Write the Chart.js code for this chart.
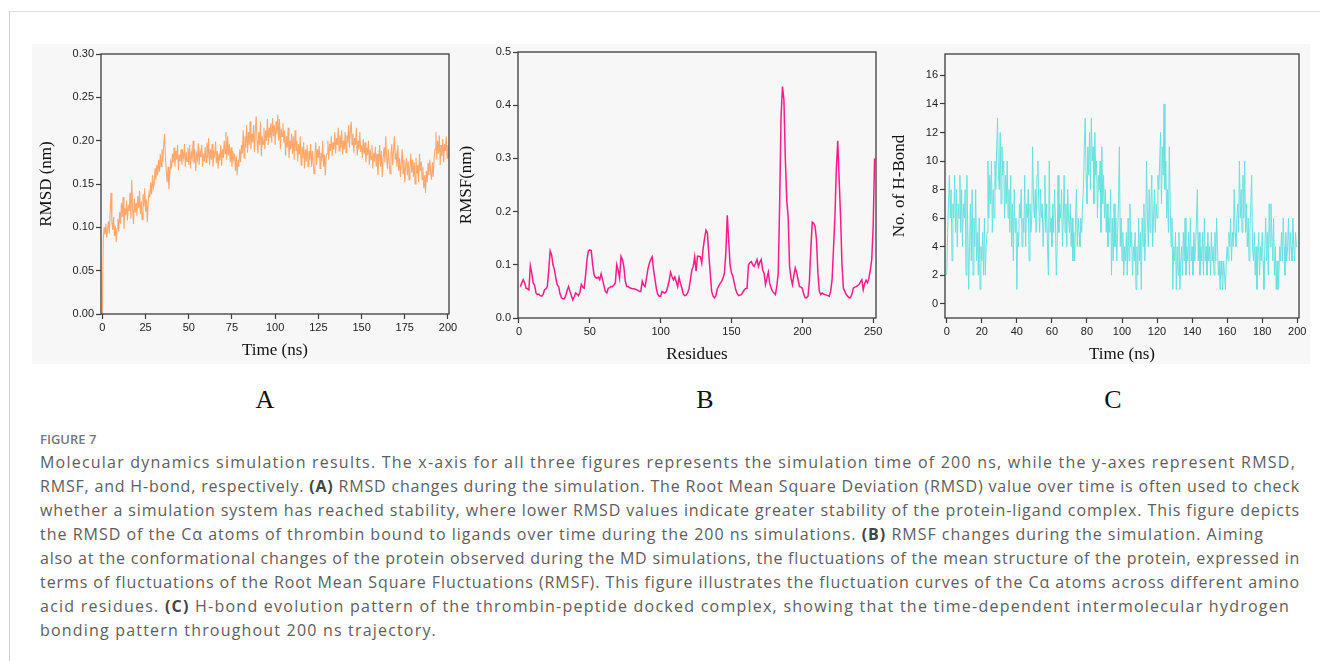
<!DOCTYPE html>
<html>
<head>
<meta charset="utf-8">
<script src="https://cdn.jsdelivr.net/npm/chart.js@4.4.0/dist/chart.umd.min.js"></script>
<style>
  html, body { margin: 0; padding: 0; background: #fff; }
  body { width: 1320px; height: 661px; position: relative; overflow: hidden; }
  .rule-top { position: absolute; left: 9px; right: 0; top: 11px; height: 1px; background: #dcdcdc; }
  .rule-left { position: absolute; left: 9px; top: 11px; bottom: 0; width: 1px; background: #d0d0d0; }
  .plate { position: absolute; left: 32px; top: 44px; width: 1278px; height: 320px; background: #f7f7f7; }
  canvas { position: absolute; top: 40px; }
  .letter { position: absolute; top: 385px; line-height: 30px; font: 26px "Liberation Serif", "Times New Roman", serif; color: #111; transform: translateX(-50%); }
  .caption { position: absolute; left: 40px; top: 428px; font-family: "Open Sans", Lato, sans-serif; color: #5e5e5e; }
  .fig-label { font-size: 13px; font-weight: 600; color: #777; height: 22px; line-height: 22px; }
  .line { white-space: nowrap; width: max-content; font-size: 16px; line-height: 24px; }
  .line b { color: #444; font-weight: 700; }
</style>
</head>
<body>
<div class="rule-top"></div>
<div class="rule-left"></div>
<div class="plate"></div>

<canvas id="rmsdChart" width="428" height="325" style="left:32px"></canvas>
<canvas id="rmsfChart" width="440" height="329" style="left:452px"></canvas>
<canvas id="hbondChart" width="430" height="329" style="left:885px"></canvas>

<div class="letter" style="left:265px">A</div>
<div class="letter" style="left:705px">B</div>
<div class="letter" style="left:1113px">C</div>

<div class="caption">
  <div class="fig-label">FIGURE 7</div>
  <div class="line" data-w="1256">Molecular dynamics simulation results. The x-axis for all three figures represents the simulation time of 200 ns, while the y-axes represent RMSD,</div>
  <div class="line" data-w="1260">RMSF, and H-bond, respectively. <b>(A)</b> RMSD changes during the simulation. The Root Mean Square Deviation (RMSD) value over time is often used to check</div>
  <div class="line" data-w="1260">whether a simulation system has reached stability, where lower RMSD values indicate greater stability of the protein-ligand complex. This figure depicts</div>
  <div class="line" data-w="1224">the RMSD of the Cα atoms of thrombin bound to ligands over time during the 200 ns simulations. <b>(B)</b> RMSF changes during the simulation. Aiming</div>
  <div class="line" data-w="1260">also at the conformational changes of the protein observed during the MD simulations, the fluctuations of the mean structure of the protein, expressed in</div>
  <div class="line" data-w="1260">terms of fluctuations of the Root Mean Square Fluctuations (RMSF). This figure illustrates the fluctuation curves of the Cα atoms across different amino</div>
  <div class="line" data-w="1250">acid residues. <b>(C)</b> H-bond evolution pattern of the thrombin-peptide docked complex, showing that the time-dependent intermolecular hydrogen</div>
  <div class="line" data-w="397">bonding pattern throughout 200 ns trajectory.</div>
</div>

<script>
// (A) RMSD of Cα atoms, one value every 0.5 ns from 0 to 200 ns
const FRAME_NS = 0.5;
const rmsd = [
  0.000,0.085,0.100,0.092,0.104,0.088,0.098,0.107,0.093,0.118,0.140,0.105,0.097,0.112,0.090,0.102,0.083,0.099,0.110,0.095,
  0.118,0.104,0.128,0.112,0.135,0.098,0.122,0.114,0.131,0.108,0.126,0.119,0.140,0.110,0.155,0.121,0.104,0.133,0.117,0.128,
  0.113,0.136,0.122,0.142,0.115,0.130,0.109,0.138,0.124,0.145,0.118,0.132,0.106,0.128,0.140,0.135,0.152,0.138,0.160,0.145,
  0.150,0.168,0.155,0.172,0.160,0.178,0.164,0.185,0.170,0.190,0.175,0.196,0.208,0.180,0.165,0.152,0.170,0.144,0.160,0.175,
  0.168,0.185,0.175,0.192,0.170,0.188,0.178,0.195,0.166,0.184,0.176,0.190,0.172,0.186,0.180,0.196,0.170,0.187,0.176,0.192,
  0.172,0.195,0.168,0.186,0.180,0.200,0.174,0.190,0.165,0.184,0.178,0.197,0.172,0.188,0.181,0.195,0.170,0.185,0.176,0.193,
  0.175,0.198,0.180,0.203,0.172,0.190,0.178,0.196,0.170,0.186,0.182,0.199,0.174,0.188,0.168,0.185,0.177,0.195,0.171,0.190,
  0.180,0.200,0.185,0.210,0.178,0.205,0.183,0.196,0.175,0.192,0.170,0.188,0.178,0.185,0.165,0.182,0.160,0.178,0.170,0.190,
  0.175,0.195,0.185,0.212,0.180,0.205,0.192,0.218,0.186,0.210,0.195,0.222,0.190,0.208,0.198,0.218,0.187,0.212,0.228,0.200,
  0.185,0.210,0.195,0.222,0.182,0.205,0.196,0.215,0.190,0.212,0.200,0.225,0.195,0.215,0.203,0.220,0.198,0.226,0.205,0.218,
  0.195,0.222,0.208,0.230,0.200,0.225,0.190,0.214,0.205,0.220,0.198,0.212,0.183,0.205,0.192,0.215,0.180,0.200,0.190,0.208,
  0.185,0.205,0.178,0.212,0.188,0.200,0.176,0.196,0.184,0.205,0.172,0.193,0.180,0.198,0.168,0.190,0.176,0.195,0.170,0.188,
  0.178,0.196,0.170,0.188,0.175,0.162,0.185,0.198,0.172,0.190,0.180,0.194,0.168,0.186,0.176,0.200,0.170,0.184,0.160,0.182,
  0.185,0.200,0.178,0.196,0.188,0.205,0.182,0.198,0.190,0.210,0.185,0.203,0.195,0.215,0.188,0.206,0.192,0.212,0.184,0.200,
  0.190,0.210,0.186,0.206,0.198,0.218,0.192,0.212,0.222,0.195,0.208,0.186,0.203,0.195,0.215,0.183,0.200,0.190,0.210,0.187,
  0.195,0.180,0.202,0.185,0.198,0.175,0.192,0.183,0.200,0.172,0.190,0.178,0.195,0.168,0.186,0.176,0.193,0.170,0.185,0.160,
  0.178,0.195,0.170,0.188,0.158,0.180,0.192,0.175,0.205,0.180,0.168,0.190,0.175,0.162,0.185,0.196,0.172,0.188,0.205,0.178,
  0.185,0.170,0.195,0.165,0.180,0.158,0.175,0.190,0.162,0.178,0.152,0.172,0.180,0.160,0.176,0.155,0.170,0.185,0.163,0.178,
  0.158,0.175,0.150,0.180,0.162,0.172,0.152,0.185,0.165,0.176,0.155,0.170,0.145,0.160,0.140,0.165,0.152,0.174,0.160,0.178,
  0.162,0.155,0.175,0.158,0.180,0.190,0.210,0.178,0.200,0.185,0.206,0.172,0.195,0.182,0.202,0.175,0.196,0.188,0.205,0.180,
  0.195
];
const rmsdTicks = [0, 0.05, 0.10, 0.15, 0.20, 0.25, 0.30];
const timeTicksA = [0, 25, 50, 75, 100, 125, 150, 175, 200];

// (B) RMSF per residue, residues 1..251
const rmsf = [
  0.059,0.066,0.072,0.066,0.056,0.055,0.053,0.098,0.085,0.066,0.062,0.047,0.044,0.045,0.042,0.041,0.044,0.053,0.055,0.059,
  0.090,0.126,0.119,0.100,0.091,0.075,0.062,0.059,0.045,0.038,0.036,0.036,0.042,0.052,0.059,0.050,0.042,0.034,0.040,0.047,
  0.045,0.042,0.048,0.063,0.058,0.056,0.080,0.110,0.126,0.128,0.127,0.100,0.081,0.076,0.075,0.077,0.072,0.083,0.072,0.060,
  0.050,0.047,0.056,0.057,0.059,0.059,0.062,0.066,0.100,0.090,0.075,0.116,0.110,0.097,0.070,0.059,0.059,0.057,0.056,0.055,
  0.055,0.054,0.053,0.052,0.050,0.050,0.069,0.062,0.059,0.075,0.092,0.103,0.110,0.115,0.090,0.072,0.055,0.044,0.041,0.041,
  0.050,0.048,0.047,0.050,0.059,0.070,0.086,0.078,0.072,0.077,0.068,0.059,0.076,0.065,0.056,0.045,0.042,0.043,0.047,0.055,
  0.072,0.090,0.097,0.115,0.088,0.116,0.116,0.115,0.103,0.131,0.150,0.165,0.160,0.120,0.084,0.050,0.041,0.038,0.042,0.055,
  0.060,0.065,0.069,0.075,0.084,0.122,0.193,0.147,0.100,0.085,0.078,0.065,0.053,0.046,0.042,0.043,0.044,0.048,0.053,0.055,
  0.056,0.100,0.104,0.106,0.100,0.097,0.103,0.110,0.097,0.105,0.110,0.090,0.084,0.063,0.075,0.086,0.065,0.056,0.050,0.047,
  0.044,0.060,0.084,0.216,0.380,0.435,0.410,0.300,0.222,0.190,0.097,0.075,0.063,0.080,0.094,0.085,0.072,0.059,0.058,0.056,
  0.045,0.038,0.038,0.041,0.070,0.130,0.180,0.178,0.172,0.147,0.084,0.050,0.044,0.047,0.045,0.044,0.043,0.042,0.041,0.050,
  0.072,0.130,0.190,0.280,0.333,0.260,0.190,0.100,0.056,0.050,0.044,0.041,0.038,0.038,0.045,0.056,0.058,0.059,0.061,0.063,
  0.068,0.072,0.053,0.065,0.071,0.066,0.075,0.090,0.110,0.172,0.300
];
const rmsfTicks = [0, 0.1, 0.2, 0.3, 0.4, 0.5];
const residueTicks = [0, 50, 100, 150, 200, 250];

// (C) number of H-bonds, one value every 0.5 ns from 0 to 200 ns
const hbonds = [
  2,5,7,9,6,8,3,7,6,9,5,8,4,7,6,9,5,8,4,7,
  6,8,2,9,5,1,4,7,3,8,2,6,4,8,3,5,2,6,1,4,
  3,5,2,6,2,4,5,10,6,9,7,10,5,8,6,10,8,11,13,9,
  8,12,7,11,9,10,6,9,7,10,6,8,5,9,4,7,3,8,5,6,
  1,5,4,7,6,8,4,6,5,9,4,7,6,8,3,7,5,6,11,7,
  6,8,5,9,10,7,5,8,6,7,4,6,9,5,7,4,2,10,5,6,
  4,7,5,8,6,2,4,9,5,7,6,8,4,6,9,5,7,4,8,6,
  5,7,4,6,3,5,3,6,8,4,6,5,4,6,5,7,8,11,13,9,
  7,11,9,12,8,13,10,11,7,12,9,10,6,9,8,10,5,11,7,9,
  6,8,5,7,4,6,5,8,2,6,3,7,4,6,3,5,7,11,4,6,
  3,5,2,4,3,5,2,6,3,7,4,5,2,4,3,5,1,4,2,6,
  3,5,1,6,4,7,3,5,10,6,4,8,5,7,9,4,6,8,5,7,
  6,9,8,10,12,7,11,9,14,8,10,6,8,5,11,7,4,6,1,4,
  3,5,1,4,2,5,1,3,4,2,5,3,6,2,4,3,5,2,6,3,
  4,2,5,3,4,6,8,3,5,2,4,3,5,2,6,3,4,2,5,3,
  4,2,5,3,4,2,5,3,6,4,2,3,1,3,2,1,3,2,1,3,
  4,3,5,4,6,3,5,4,8,5,4,6,7,5,10,6,8,5,9,6,
  10,5,7,4,6,3,5,7,9,4,3,5,2,4,1,3,5,2,4,3,
  5,3,1,4,6,3,5,2,7,4,7,5,3,6,2,4,1,3,1,2,
  4,3,5,3,6,4,2,5,3,4,6,3,5,4,3,6,4,3,5,4,
  4
];
const hbondTicks = [0, 2, 4, 6, 8, 10, 12, 14, 16];
const timeTicksC = [0, 20, 40, 60, 80, 100, 120, 140, 160, 180, 200];

// closed box around each plot area
const frameBox = {
  id: "frameBox",
  afterDraw(chart) {
    const { ctx, chartArea: a } = chart;
    ctx.save();
    ctx.strokeStyle = "#3c3c3c";
    ctx.lineWidth = 1.3;
    ctx.strokeRect(a.left, a.top, a.right - a.left, a.bottom - a.top);
    ctx.restore();
  }
};

const tickFont = { family: "'Liberation Sans', Arial, sans-serif", size: 11 };
const titleFont = { family: "'Liberation Serif', 'Times New Roman', serif", size: 17 };

function axis(c) {
  return {
    type: "linear",
    min: c.min, max: c.max,
    afterBuildTicks: s => { s.ticks = c.ticks.map(v => ({ value: v })); },
    afterFit: c.fit,
    border: { display: false },
    grid: { drawOnChartArea: false, drawTicks: true, tickLength: 5, tickColor: "#3c3c3c", tickWidth: 1.2 },
    ticks: { color: "#222", font: tickFont, padding: 2, maxRotation: 0, autoSkip: false, callback: c.fmt },
    title: { display: true, text: c.title, color: "#111", font: titleFont, padding: { top: 4, bottom: 4 } }
  };
}

function drawPanel(id, p) {
  new Chart(document.getElementById(id), {
    type: "line",
    data: {
      datasets: [{
        data: p.values.map(p.toPoint),
        borderColor: p.color, borderWidth: p.lineWidth,
        pointRadius: 0, tension: 0, fill: false
      }]
    },
    options: {
      responsive: false, animation: false, devicePixelRatio: 1,
      layout: { padding: { top: p.padTop, right: p.padRight, left: 0, bottom: 0 } },
      plugins: { legend: { display: false }, tooltip: { enabled: false } },
      scales: {
        x: axis({ min: p.xMin, max: p.xMax, ticks: p.xTicks, title: p.xTitle, fmt: v => String(v), fit: s => { s.height = 51; } }),
        y: axis({ min: p.yMin, max: p.yMax, ticks: p.yTicks, title: p.yTitle, fmt: p.yFmt, fit: s => { s.width = p.yWidth; } })
      }
    },
    plugins: [frameBox]
  });
}

const byFrame = (v, i) => ({ x: i * FRAME_NS, y: v });

drawPanel("rmsdChart", {
  values: rmsd, toPoint: byFrame, color: "#ffa86c", lineWidth: 1.1,
  xMin: -0.8, xMax: 200.6, xTicks: timeTicksA, xTitle: "Time (ns)",
  yMin: 0, yMax: 0.30, yTicks: rmsdTicks, yTitle: "RMSD (nm)", yFmt: v => v.toFixed(2),
  yWidth: 69, padTop: 14, padRight: 11
});

drawPanel("rmsfChart", {
  values: rmsf, toPoint: (v, i) => ({ x: i + 1, y: v }), color: "#ff1a8c", lineWidth: 1.5,
  xMin: -0.7, xMax: 252, xTicks: residueTicks, xTitle: "Residues",
  yMin: 0, yMax: 0.5, yTicks: rmsfTicks, yTitle: "RMSF(nm)", yFmt: v => v.toFixed(1),
  yWidth: 66, padTop: 12, padRight: 16
});

drawPanel("hbondChart", {
  values: hbonds, toPoint: byFrame, color: "#66e2df", lineWidth: 1,
  xMin: -1, xMax: 201, xTicks: timeTicksC, xTitle: "Time (ns)",
  yMin: -1, yMax: 17.5, yTicks: hbondTicks, yTitle: "No. of H-Bond", yFmt: v => String(v),
  yWidth: 60, padTop: 14, padRight: 16
});

// stretch each caption line to the width it has in the printed figure
document.fonts.ready.then(() => {
  document.querySelectorAll(".line").forEach(el => {
    const natural = el.getBoundingClientRect().width;
    const chars = el.textContent.length;
    el.style.letterSpacing = ((Number(el.dataset.w) - natural) / chars) + "px";
  });
});
</script>
</body>
</html>
